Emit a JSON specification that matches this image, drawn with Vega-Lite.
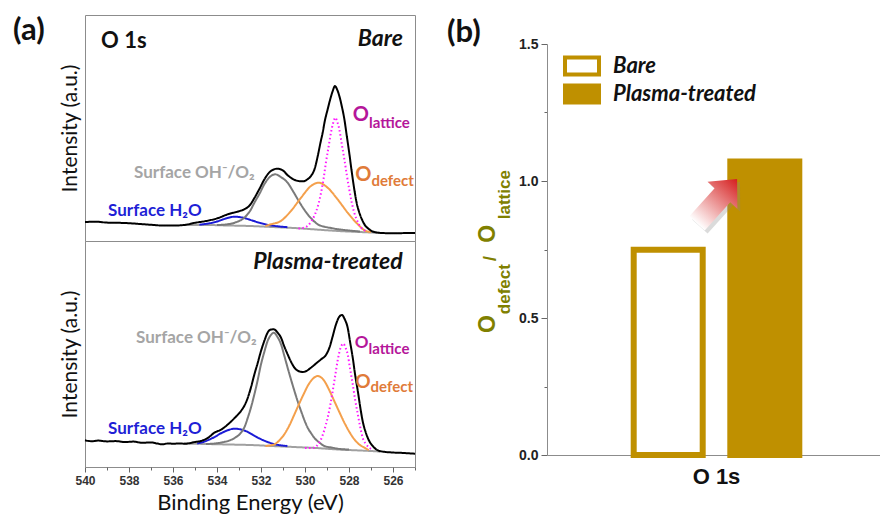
{
  "$schema": "https://vega.github.io/schema/vega-lite/v6.json",
  "background": "white",
  "padding": {"left": 12, "top": 14, "right": 0, "bottom": 0},
  "autosize": {"type": "pad"},
  "spacing": 26,
  "resolve": {"legend": {"fill": "independent"}},
  "config": {
    "font": "Lato",
    "view": {"stroke": "#8c8c8c", "strokeWidth": 1},
    "axis": {"grid": false}
  },
  "datasets": {
    "xps": [
      {"p":"Bare","s":"Background","E":535.5,"I":16},{"p":"Bare","s":"Background","E":534.5,"I":16},{"p":"Bare","s":"Background","E":533.5,"I":15.5},{"p":"Bare","s":"Background","E":532.5,"I":15},{"p":"Bare","s":"Background","E":531.5,"I":14},{"p":"Bare","s":"Background","E":530.5,"I":13},{"p":"Bare","s":"Background","E":529.5,"I":11.5},{"p":"Bare","s":"Background","E":528.5,"I":10},{"p":"Bare","s":"Background","E":527.5,"I":9},{"p":"Bare","s":"Background","E":527,"I":8.5},{"p":"Bare","s":"Background","E":526.5,"I":8},
      {"p":"Bare","s":"Surface H2O","E":534.8,"I":16.3},{"p":"Bare","s":"Surface H2O","E":534.4,"I":17.5},{"p":"Bare","s":"Surface H2O","E":534,"I":19.5},{"p":"Bare","s":"Surface H2O","E":533.6,"I":22.5},{"p":"Bare","s":"Surface H2O","E":533.2,"I":24.3},{"p":"Bare","s":"Surface H2O","E":532.8,"I":23.2},{"p":"Bare","s":"Surface H2O","E":532.4,"I":20.5},{"p":"Bare","s":"Surface H2O","E":532,"I":17.8},{"p":"Bare","s":"Surface H2O","E":531.6,"I":15.8},{"p":"Bare","s":"Surface H2O","E":531.2,"I":14.6},{"p":"Bare","s":"Surface H2O","E":530.8,"I":13.8},
      {"p":"Bare","s":"Surface OH/O2","E":534,"I":16},{"p":"Bare","s":"Surface OH/O2","E":533.6,"I":16.5},{"p":"Bare","s":"Surface OH/O2","E":533.2,"I":18.3},{"p":"Bare","s":"Surface OH/O2","E":532.76,"I":23.3},{"p":"Bare","s":"Surface OH/O2","E":532.5,"I":30},{"p":"Bare","s":"Surface OH/O2","E":532.3,"I":38.3},{"p":"Bare","s":"Surface OH/O2","E":532.05,"I":48},{"p":"Bare","s":"Surface OH/O2","E":531.85,"I":56.7},{"p":"Bare","s":"Surface OH/O2","E":531.6,"I":64},{"p":"Bare","s":"Surface OH/O2","E":531.35,"I":66.7},{"p":"Bare","s":"Surface OH/O2","E":531.1,"I":64},{"p":"Bare","s":"Surface OH/O2","E":530.79,"I":58.3},{"p":"Bare","s":"Surface OH/O2","E":530.55,"I":50},{"p":"Bare","s":"Surface OH/O2","E":530.33,"I":41.7},{"p":"Bare","s":"Surface OH/O2","E":530.1,"I":33.5},{"p":"Bare","s":"Surface OH/O2","E":529.88,"I":26.7},{"p":"Bare","s":"Surface OH/O2","E":529.65,"I":21},{"p":"Bare","s":"Surface OH/O2","E":529.42,"I":16.7},{"p":"Bare","s":"Surface OH/O2","E":529.1,"I":14.2},{"p":"Bare","s":"Surface OH/O2","E":528.82,"I":13},{"p":"Bare","s":"Surface OH/O2","E":528.5,"I":11.8},{"p":"Bare","s":"Surface OH/O2","E":528,"I":10.5},{"p":"Bare","s":"Surface OH/O2","E":527.5,"I":9.5},
      {"p":"Bare","s":"O defect","E":531.8,"I":15},{"p":"Bare","s":"O defect","E":531.55,"I":16.7},{"p":"Bare","s":"O defect","E":531.1,"I":20},{"p":"Bare","s":"O defect","E":530.64,"I":30},{"p":"Bare","s":"O defect","E":530.18,"I":43.3},{"p":"Bare","s":"O defect","E":529.73,"I":55},{"p":"Bare","s":"O defect","E":529.39,"I":58.3},{"p":"Bare","s":"O defect","E":528.97,"I":53.3},{"p":"Bare","s":"O defect","E":528.52,"I":41.7},{"p":"Bare","s":"O defect","E":528.06,"I":28.3},{"p":"Bare","s":"O defect","E":527.6,"I":16.7},{"p":"Bare","s":"O defect","E":527.23,"I":10},{"p":"Bare","s":"O defect","E":527,"I":9},
      {"p":"Bare","s":"O lattice","E":530.3,"I":12.5},{"p":"Bare","s":"O lattice","E":530.03,"I":13.3},{"p":"Bare","s":"O lattice","E":529.8,"I":17},{"p":"Bare","s":"O lattice","E":529.58,"I":25},{"p":"Bare","s":"O lattice","E":529.4,"I":36},{"p":"Bare","s":"O lattice","E":529.27,"I":48.3},{"p":"Bare","s":"O lattice","E":529.15,"I":63},{"p":"Bare","s":"O lattice","E":529.05,"I":78.3},{"p":"Bare","s":"O lattice","E":528.93,"I":94},{"p":"Bare","s":"O lattice","E":528.82,"I":108.3},{"p":"Bare","s":"O lattice","E":528.72,"I":118},{"p":"Bare","s":"O lattice","E":528.62,"I":123.3},{"p":"Bare","s":"O lattice","E":528.53,"I":119},{"p":"Bare","s":"O lattice","E":528.44,"I":111.7},{"p":"Bare","s":"O lattice","E":528.33,"I":97},{"p":"Bare","s":"O lattice","E":528.21,"I":81.7},{"p":"Bare","s":"O lattice","E":528.1,"I":66},{"p":"Bare","s":"O lattice","E":527.99,"I":51.7},{"p":"Bare","s":"O lattice","E":527.88,"I":39},{"p":"Bare","s":"O lattice","E":527.76,"I":28.3},{"p":"Bare","s":"O lattice","E":527.6,"I":19},{"p":"Bare","s":"O lattice","E":527.45,"I":13.3},{"p":"Bare","s":"O lattice","E":527.2,"I":10},
      {"p":"Bare","s":"Envelope","E":540,"I":19},{"p":"Bare","s":"Envelope","E":539.5,"I":19.3},{"p":"Bare","s":"Envelope","E":539,"I":18.4},{"p":"Bare","s":"Envelope","E":538.5,"I":18.2},{"p":"Bare","s":"Envelope","E":538,"I":17.8},{"p":"Bare","s":"Envelope","E":537.5,"I":17},{"p":"Bare","s":"Envelope","E":537,"I":16.2},{"p":"Bare","s":"Envelope","E":536.5,"I":15.5},{"p":"Bare","s":"Envelope","E":536,"I":15.4},{"p":"Bare","s":"Envelope","E":535.5,"I":16},{"p":"Bare","s":"Envelope","E":535,"I":18.2},{"p":"Bare","s":"Envelope","E":534.5,"I":20},{"p":"Bare","s":"Envelope","E":534,"I":22.6},{"p":"Bare","s":"Envelope","E":533.5,"I":26.8},{"p":"Bare","s":"Envelope","E":533,"I":29.8},{"p":"Bare","s":"Envelope","E":532.75,"I":31.8},{"p":"Bare","s":"Envelope","E":532.5,"I":36},{"p":"Bare","s":"Envelope","E":532.3,"I":43},{"p":"Bare","s":"Envelope","E":532.05,"I":53},{"p":"Bare","s":"Envelope","E":531.85,"I":61.5},{"p":"Bare","s":"Envelope","E":531.55,"I":70},{"p":"Bare","s":"Envelope","E":531.25,"I":72.3},{"p":"Bare","s":"Envelope","E":531,"I":70.5},{"p":"Bare","s":"Envelope","E":530.8,"I":66},{"p":"Bare","s":"Envelope","E":530.55,"I":62},{"p":"Bare","s":"Envelope","E":530.3,"I":60},{"p":"Bare","s":"Envelope","E":530.1,"I":59.7},{"p":"Bare","s":"Envelope","E":529.9,"I":61.5},{"p":"Bare","s":"Envelope","E":529.73,"I":65},{"p":"Bare","s":"Envelope","E":529.55,"I":73},{"p":"Bare","s":"Envelope","E":529.42,"I":85},{"p":"Bare","s":"Envelope","E":529.3,"I":98},{"p":"Bare","s":"Envelope","E":529.2,"I":108},{"p":"Bare","s":"Envelope","E":529.1,"I":120},{"p":"Bare","s":"Envelope","E":528.97,"I":131.7},{"p":"Bare","s":"Envelope","E":528.85,"I":142},{"p":"Bare","s":"Envelope","E":528.74,"I":150},{"p":"Bare","s":"Envelope","E":528.64,"I":155},{"p":"Bare","s":"Envelope","E":528.55,"I":152},{"p":"Bare","s":"Envelope","E":528.44,"I":145},{"p":"Bare","s":"Envelope","E":528.32,"I":134},{"p":"Bare","s":"Envelope","E":528.21,"I":121.7},{"p":"Bare","s":"Envelope","E":528.1,"I":105},{"p":"Bare","s":"Envelope","E":527.99,"I":88.3},{"p":"Bare","s":"Envelope","E":527.88,"I":70},{"p":"Bare","s":"Envelope","E":527.76,"I":51.7},{"p":"Bare","s":"Envelope","E":527.65,"I":38},{"p":"Bare","s":"Envelope","E":527.53,"I":28.3},{"p":"Bare","s":"Envelope","E":527.4,"I":21},{"p":"Bare","s":"Envelope","E":527.3,"I":16.7},{"p":"Bare","s":"Envelope","E":527.1,"I":12},{"p":"Bare","s":"Envelope","E":526.85,"I":9},{"p":"Bare","s":"Envelope","E":526.5,"I":8},{"p":"Bare","s":"Envelope","E":526,"I":7.7},{"p":"Bare","s":"Envelope","E":525.5,"I":7.9},{"p":"Bare","s":"Envelope","E":525,"I":8},

      {"p":"Plasma","s":"Background","E":535.5,"I":23.5},{"p":"Plasma","s":"Background","E":534.5,"I":23},{"p":"Plasma","s":"Background","E":533.5,"I":22.5},{"p":"Plasma","s":"Background","E":532.5,"I":22},{"p":"Plasma","s":"Background","E":531.5,"I":21},{"p":"Plasma","s":"Background","E":530.5,"I":20},{"p":"Plasma","s":"Background","E":529.5,"I":19},{"p":"Plasma","s":"Background","E":528.5,"I":17.5},{"p":"Plasma","s":"Background","E":527.5,"I":16.5},{"p":"Plasma","s":"Background","E":527,"I":16},{"p":"Plasma","s":"Background","E":526.6,"I":15.5},
      {"p":"Plasma","s":"Surface H2O","E":534.9,"I":23.5},{"p":"Plasma","s":"Surface H2O","E":534.7,"I":24.5},{"p":"Plasma","s":"Surface H2O","E":534.2,"I":29},{"p":"Plasma","s":"Surface H2O","E":533.7,"I":35},{"p":"Plasma","s":"Surface H2O","E":533.2,"I":38.3},{"p":"Plasma","s":"Surface H2O","E":532.7,"I":36},{"p":"Plasma","s":"Surface H2O","E":532.2,"I":30},{"p":"Plasma","s":"Surface H2O","E":531.7,"I":25},{"p":"Plasma","s":"Surface H2O","E":531.2,"I":22},{"p":"Plasma","s":"Surface H2O","E":530.8,"I":21},
      {"p":"Plasma","s":"Surface OH/O2","E":534.5,"I":23},{"p":"Plasma","s":"Surface OH/O2","E":534.12,"I":23.5},{"p":"Plasma","s":"Surface OH/O2","E":533.8,"I":24.5},{"p":"Plasma","s":"Surface OH/O2","E":533.5,"I":26},{"p":"Plasma","s":"Surface OH/O2","E":533.2,"I":29},{"p":"Plasma","s":"Surface OH/O2","E":532.91,"I":34.3},{"p":"Plasma","s":"Surface OH/O2","E":532.75,"I":40},{"p":"Plasma","s":"Surface OH/O2","E":532.6,"I":49.3},{"p":"Plasma","s":"Surface OH/O2","E":532.45,"I":60},{"p":"Plasma","s":"Surface OH/O2","E":532.3,"I":72.7},{"p":"Plasma","s":"Surface OH/O2","E":532.15,"I":87},{"p":"Plasma","s":"Surface OH/O2","E":532,"I":102.7},{"p":"Plasma","s":"Surface OH/O2","E":531.85,"I":115},{"p":"Plasma","s":"Surface OH/O2","E":531.7,"I":126},{"p":"Plasma","s":"Surface OH/O2","E":531.55,"I":132},{"p":"Plasma","s":"Surface OH/O2","E":531.42,"I":134.3},{"p":"Plasma","s":"Surface OH/O2","E":531.25,"I":130},{"p":"Plasma","s":"Surface OH/O2","E":531.09,"I":122.7},{"p":"Plasma","s":"Surface OH/O2","E":530.95,"I":112},{"p":"Plasma","s":"Surface OH/O2","E":530.79,"I":99.3},{"p":"Plasma","s":"Surface OH/O2","E":530.63,"I":87},{"p":"Plasma","s":"Surface OH/O2","E":530.48,"I":76},{"p":"Plasma","s":"Surface OH/O2","E":530.33,"I":65.5},{"p":"Plasma","s":"Surface OH/O2","E":530.18,"I":56},{"p":"Plasma","s":"Surface OH/O2","E":530.03,"I":47},{"p":"Plasma","s":"Surface OH/O2","E":529.88,"I":39.3},{"p":"Plasma","s":"Surface OH/O2","E":529.73,"I":34},{"p":"Plasma","s":"Surface OH/O2","E":529.58,"I":29.3},{"p":"Plasma","s":"Surface OH/O2","E":529.35,"I":24.5},{"p":"Plasma","s":"Surface OH/O2","E":529.12,"I":21},{"p":"Plasma","s":"Surface OH/O2","E":528.8,"I":19.5},{"p":"Plasma","s":"Surface OH/O2","E":528.4,"I":18},{"p":"Plasma","s":"Surface OH/O2","E":528,"I":17.5},
      {"p":"Plasma","s":"O defect","E":531.8,"I":21},{"p":"Plasma","s":"O defect","E":531.39,"I":22.7},{"p":"Plasma","s":"O defect","E":531.15,"I":27},{"p":"Plasma","s":"O defect","E":530.94,"I":32.7},{"p":"Plasma","s":"O defect","E":530.7,"I":42},{"p":"Plasma","s":"O defect","E":530.48,"I":52.7},{"p":"Plasma","s":"O defect","E":530.25,"I":64},{"p":"Plasma","s":"O defect","E":530.03,"I":74.3},{"p":"Plasma","s":"O defect","E":529.88,"I":81},{"p":"Plasma","s":"O defect","E":529.73,"I":86},{"p":"Plasma","s":"O defect","E":529.42,"I":91},{"p":"Plasma","s":"O defect","E":529.12,"I":86},{"p":"Plasma","s":"O defect","E":528.9,"I":77},{"p":"Plasma","s":"O defect","E":528.67,"I":66},{"p":"Plasma","s":"O defect","E":528.44,"I":55},{"p":"Plasma","s":"O defect","E":528.21,"I":44.3},{"p":"Plasma","s":"O defect","E":527.98,"I":35},{"p":"Plasma","s":"O defect","E":527.76,"I":27.7},{"p":"Plasma","s":"O defect","E":527.53,"I":22.5},{"p":"Plasma","s":"O defect","E":527.3,"I":19.3},{"p":"Plasma","s":"O defect","E":527.1,"I":17},
      {"p":"Plasma","s":"O lattice","E":530,"I":19},{"p":"Plasma","s":"O lattice","E":529.58,"I":19.3},{"p":"Plasma","s":"O lattice","E":529.4,"I":23},{"p":"Plasma","s":"O lattice","E":529.27,"I":27.7},{"p":"Plasma","s":"O lattice","E":529.12,"I":37},{"p":"Plasma","s":"O lattice","E":528.97,"I":49.3},{"p":"Plasma","s":"O lattice","E":528.85,"I":62},{"p":"Plasma","s":"O lattice","E":528.74,"I":76},{"p":"Plasma","s":"O lattice","E":528.63,"I":91},{"p":"Plasma","s":"O lattice","E":528.52,"I":106},{"p":"Plasma","s":"O lattice","E":528.4,"I":118},{"p":"Plasma","s":"O lattice","E":528.26,"I":123.3},{"p":"Plasma","s":"O lattice","E":528.15,"I":119},{"p":"Plasma","s":"O lattice","E":528.06,"I":112.7},{"p":"Plasma","s":"O lattice","E":527.95,"I":98},{"p":"Plasma","s":"O lattice","E":527.83,"I":82.7},{"p":"Plasma","s":"O lattice","E":527.72,"I":67},{"p":"Plasma","s":"O lattice","E":527.6,"I":52.7},{"p":"Plasma","s":"O lattice","E":527.49,"I":40},{"p":"Plasma","s":"O lattice","E":527.38,"I":29.3},{"p":"Plasma","s":"O lattice","E":527.23,"I":23},{"p":"Plasma","s":"O lattice","E":527.08,"I":19.3},{"p":"Plasma","s":"O lattice","E":526.9,"I":17},
      {"p":"Plasma","s":"Envelope","E":540,"I":26.7},{"p":"Plasma","s":"Envelope","E":539.7,"I":25.8},{"p":"Plasma","s":"Envelope","E":539.4,"I":26.4},{"p":"Plasma","s":"Envelope","E":539,"I":25.6},{"p":"Plasma","s":"Envelope","E":538.6,"I":25.9},{"p":"Plasma","s":"Envelope","E":538.2,"I":25},{"p":"Plasma","s":"Envelope","E":537.8,"I":25.4},{"p":"Plasma","s":"Envelope","E":537.4,"I":24.2},{"p":"Plasma","s":"Envelope","E":537,"I":24.6},{"p":"Plasma","s":"Envelope","E":536.7,"I":23.4},{"p":"Plasma","s":"Envelope","E":536.5,"I":22.7},{"p":"Plasma","s":"Envelope","E":536.2,"I":23.6},{"p":"Plasma","s":"Envelope","E":536,"I":23.2},{"p":"Plasma","s":"Envelope","E":535.7,"I":23.6},{"p":"Plasma","s":"Envelope","E":535.45,"I":23.3},{"p":"Plasma","s":"Envelope","E":535,"I":25},{"p":"Plasma","s":"Envelope","E":534.73,"I":26},{"p":"Plasma","s":"Envelope","E":534.4,"I":29.3},{"p":"Plasma","s":"Envelope","E":534.12,"I":34.3},{"p":"Plasma","s":"Envelope","E":533.8,"I":37.5},{"p":"Plasma","s":"Envelope","E":533.5,"I":42.7},{"p":"Plasma","s":"Envelope","E":533.2,"I":49},{"p":"Plasma","s":"Envelope","E":532.91,"I":56},{"p":"Plasma","s":"Envelope","E":532.75,"I":61.5},{"p":"Plasma","s":"Envelope","E":532.6,"I":69.3},{"p":"Plasma","s":"Envelope","E":532.45,"I":80},{"p":"Plasma","s":"Envelope","E":532.3,"I":92.7},{"p":"Plasma","s":"Envelope","E":532.15,"I":104},{"p":"Plasma","s":"Envelope","E":532,"I":116},{"p":"Plasma","s":"Envelope","E":531.85,"I":126},{"p":"Plasma","s":"Envelope","E":531.7,"I":134.3},{"p":"Plasma","s":"Envelope","E":531.55,"I":137.5},{"p":"Plasma","s":"Envelope","E":531.42,"I":137.7},{"p":"Plasma","s":"Envelope","E":531.25,"I":134.5},{"p":"Plasma","s":"Envelope","E":531.09,"I":129.3},{"p":"Plasma","s":"Envelope","E":530.95,"I":121},{"p":"Plasma","s":"Envelope","E":530.79,"I":112.7},{"p":"Plasma","s":"Envelope","E":530.63,"I":105},{"p":"Plasma","s":"Envelope","E":530.48,"I":99.3},{"p":"Plasma","s":"Envelope","E":530.3,"I":96},{"p":"Plasma","s":"Envelope","E":530.1,"I":95},{"p":"Plasma","s":"Envelope","E":529.9,"I":96.5},{"p":"Plasma","s":"Envelope","E":529.73,"I":99.3},{"p":"Plasma","s":"Envelope","E":529.5,"I":103.5},{"p":"Plasma","s":"Envelope","E":529.27,"I":107.7},{"p":"Plasma","s":"Envelope","E":529.05,"I":112},{"p":"Plasma","s":"Envelope","E":528.89,"I":119.3},{"p":"Plasma","s":"Envelope","E":528.75,"I":130},{"p":"Plasma","s":"Envelope","E":528.59,"I":142.7},{"p":"Plasma","s":"Envelope","E":528.45,"I":150},{"p":"Plasma","s":"Envelope","E":528.32,"I":152},{"p":"Plasma","s":"Envelope","E":528.2,"I":148},{"p":"Plasma","s":"Envelope","E":528.06,"I":139.3},{"p":"Plasma","s":"Envelope","E":527.95,"I":125},{"p":"Plasma","s":"Envelope","E":527.83,"I":109.3},{"p":"Plasma","s":"Envelope","E":527.72,"I":92},{"p":"Plasma","s":"Envelope","E":527.6,"I":76},{"p":"Plasma","s":"Envelope","E":527.49,"I":60},{"p":"Plasma","s":"Envelope","E":527.38,"I":46},{"p":"Plasma","s":"Envelope","E":527.23,"I":34},{"p":"Plasma","s":"Envelope","E":527.08,"I":26},{"p":"Plasma","s":"Envelope","E":526.9,"I":20.5},{"p":"Plasma","s":"Envelope","E":526.77,"I":17.7},{"p":"Plasma","s":"Envelope","E":526.5,"I":15.5},{"p":"Plasma","s":"Envelope","E":526,"I":14.5},{"p":"Plasma","s":"Envelope","E":525.5,"I":14},{"p":"Plasma","s":"Envelope","E":525,"I":13.3}
    ],
    "ratio": [
      {"group": "O 1s", "series": "Bare", "value": 0.749},
      {"group": "O 1s", "series": "Plasma-treated", "value": 1.071}
    ]
  },
  "hconcat": [
    {
      "spacing": 0,
      "bounds": "flush",
      "vconcat": [
        {
          "width": 330,
          "height": 226,
          "layer": [
            {
              "data": {"name": "xps"},
              "transform": [{"filter": "datum.p === 'Bare'"}],
              "mark": {"type": "line", "strokeWidth": 2, "interpolate": "monotone"},
              "encoding": {
                "x": {"field": "E", "type": "quantitative", "scale": {"domain": [525, 540], "reverse": true, "nice": false}, "axis": null},
                "y": {"field": "I", "type": "quantitative", "scale": {"domain": [0, 226], "nice": false}, "axis": {"title": "Intensity (a.u.)", "labels": false, "ticks": false, "domain": false, "titleFont": "Lato", "titleFontSize": 21, "titleFontWeight": "normal", "titleColor": "#111111", "titlePadding": 5}},
                "color": {"field": "s", "type": "nominal", "scale": {"domain": ["Envelope", "Background", "Surface H2O", "Surface OH/O2", "O defect", "O lattice"], "range": ["#000000", "#a0a0a0", "#1a1ad6", "#7a7a7a", "#f4a04c", "#ff1aff"]}, "legend": null},
                "strokeDash": {"field": "s", "type": "nominal", "scale": {"domain": ["Envelope", "Background", "Surface H2O", "Surface OH/O2", "O defect", "O lattice"], "range": [[1, 0], [1, 0], [1, 0], [1, 0], [1, 0], [1.5, 2.5]]}, "legend": null}
              }
            },
            {
              "data": {"values": [{"E": 543.27, "I": 201, "t": "(a)"}]},
              "mark": {"type": "text", "align": "left", "baseline": "alphabetic", "font": "Lato", "fontSize": 31, "fontWeight": "bold", "color": "#111111", "clip": false},
              "encoding": {"x": {"field": "E", "type": "quantitative"}, "y": {"field": "I", "type": "quantitative"}, "text": {"field": "t"}}
            },
            {
              "data": {"values": [{"E": 539.27, "I": 193.3, "t": "O 1s"}]},
              "mark": {"type": "text", "align": "left", "baseline": "alphabetic", "font": "Lato", "fontSize": 22, "fontWeight": "bold", "color": "#111111", "clip": false},
              "encoding": {"x": {"field": "E", "type": "quantitative"}, "y": {"field": "I", "type": "quantitative"}, "text": {"field": "t"}}
            },
            {
              "data": {"values": [{"E": 525.55, "I": 195, "t": "Bare"}]},
              "mark": {"type": "text", "align": "right", "baseline": "alphabetic", "font": "Lato", "fontSize": 23, "fontWeight": "bold", "fontStyle": "italic", "color": "#111111", "clip": false},
              "encoding": {"x": {"field": "E", "type": "quantitative"}, "y": {"field": "I", "type": "quantitative"}, "text": {"field": "t"}}
            },
            {
              "data": {"values": [{"E": 537.77, "I": 63.5, "t": "Surface OH⁻/O₂"}]},
              "mark": {"type": "text", "align": "left", "baseline": "alphabetic", "font": "Lato", "fontSize": 17, "fontWeight": "bold", "color": "#a5a5a5", "clip": false},
              "encoding": {"x": {"field": "E", "type": "quantitative"}, "y": {"field": "I", "type": "quantitative"}, "text": {"field": "t"}}
            },
            {
              "data": {"values": [{"E": 538.95, "I": 25, "t": "Surface H₂O"}]},
              "mark": {"type": "text", "align": "left", "baseline": "alphabetic", "font": "Lato", "fontSize": 17, "fontWeight": "bold", "color": "#1f1fd6", "clip": false},
              "encoding": {"x": {"field": "E", "type": "quantitative"}, "y": {"field": "I", "type": "quantitative"}, "text": {"field": "t"}}
            },
            {
              "data": {"values": [{"E": 527.09, "I": 120, "t": "O"}]},
              "mark": {"type": "text", "align": "right", "baseline": "alphabetic", "font": "Lato", "fontSize": 20, "fontWeight": "bold", "color": "#b5169a", "clip": false},
              "encoding": {"x": {"field": "E", "type": "quantitative"}, "y": {"field": "I", "type": "quantitative"}, "text": {"field": "t"}}
            },
            {
              "data": {"values": [{"E": 527.09, "I": 120, "t": "lattice"}]},
              "mark": {"type": "text", "align": "left", "baseline": "alphabetic", "dy": 7, "font": "Lato", "fontSize": 15, "fontWeight": "bold", "color": "#b5169a", "clip": false},
              "encoding": {"x": {"field": "E", "type": "quantitative"}, "y": {"field": "I", "type": "quantitative"}, "text": {"field": "t"}}
            },
            {
              "data": {"values": [{"E": 526.98, "I": 60, "t": "O"}]},
              "mark": {"type": "text", "align": "right", "baseline": "alphabetic", "font": "Lato", "fontSize": 20, "fontWeight": "bold", "color": "#e07b39", "clip": false},
              "encoding": {"x": {"field": "E", "type": "quantitative"}, "y": {"field": "I", "type": "quantitative"}, "text": {"field": "t"}}
            },
            {
              "data": {"values": [{"E": 526.98, "I": 60, "t": "defect"}]},
              "mark": {"type": "text", "align": "left", "baseline": "alphabetic", "dy": 5, "font": "Lato", "fontSize": 15, "fontWeight": "bold", "color": "#e07b39", "clip": false},
              "encoding": {"x": {"field": "E", "type": "quantitative"}, "y": {"field": "I", "type": "quantitative"}, "text": {"field": "t"}}
            }
          ]
        },
        {
          "width": 330,
          "height": 226,
          "resolve": {"axis": {"x": "independent"}},
          "layer": [
            {
              "data": {"name": "xps"},
              "transform": [{"filter": "datum.p === 'Plasma'"}],
              "mark": {"type": "line", "strokeWidth": 2, "interpolate": "monotone"},
              "encoding": {
                "x": {"field": "E", "type": "quantitative", "scale": {"domain": [525, 540], "reverse": true, "nice": false}, "axis": {"orient": "bottom", "title": "Binding Energy (eV)", "titleFont": "Lato", "titleFontSize": 22, "titleFontWeight": "normal", "titleColor": "#111111", "titlePadding": 6, "values": [540, 538, 536, 534, 532, 530, 528, 526], "format": "d", "labels": true, "labelFont": "Liberation Sans", "labelFontSize": 12, "labelFontWeight": "bold", "labelColor": "#333333", "labelPadding": 3, "labelOverlap": false, "labelFlush": false, "tickColor": "#666666", "tickSize": 5, "domain": false}},
                "y": {"field": "I", "type": "quantitative", "scale": {"domain": [0, 226], "nice": false}, "axis": {"title": "Intensity (a.u.)", "labels": false, "ticks": false, "domain": false, "titleFont": "Lato", "titleFontSize": 21, "titleFontWeight": "normal", "titleColor": "#111111", "titlePadding": 5}},
                "color": {"field": "s", "type": "nominal", "scale": {"domain": ["Envelope", "Background", "Surface H2O", "Surface OH/O2", "O defect", "O lattice"], "range": ["#000000", "#a0a0a0", "#1a1ad6", "#7a7a7a", "#f4a04c", "#ff1aff"]}, "legend": null},
                "strokeDash": {"field": "s", "type": "nominal", "scale": {"domain": ["Envelope", "Background", "Surface H2O", "Surface OH/O2", "O defect", "O lattice"], "range": [[1, 0], [1, 0], [1, 0], [1, 0], [1, 0], [1.5, 2.5]]}, "legend": null}
              }
            },
            {
              "data": {"values": [{"E": 525.56, "I": 198, "t": "Plasma-treated"}]},
              "mark": {"type": "text", "align": "right", "baseline": "alphabetic", "font": "Lato", "fontSize": 23, "fontWeight": "bold", "fontStyle": "italic", "color": "#111111", "clip": false},
              "encoding": {"x": {"field": "E", "type": "quantitative", "axis": {"orient": "bottom", "values": [539, 537, 535, 533, 531, 529, 527, 525], "labels": false, "title": null, "tickSize": 3, "tickColor": "#666666", "domain": false, "grid": false}}, "y": {"field": "I", "type": "quantitative"}, "text": {"field": "t"}}
            },
            {
              "data": {"values": [{"E": 537.68, "I": 124, "t": "Surface OH⁻/O₂"}]},
              "mark": {"type": "text", "align": "left", "baseline": "alphabetic", "font": "Lato", "fontSize": 17, "fontWeight": "bold", "color": "#a5a5a5", "clip": false},
              "encoding": {"x": {"field": "E", "type": "quantitative", "axis": null}, "y": {"field": "I", "type": "quantitative"}, "text": {"field": "t"}}
            },
            {
              "data": {"values": [{"E": 538.95, "I": 33, "t": "Surface H₂O"}]},
              "mark": {"type": "text", "align": "left", "baseline": "alphabetic", "font": "Lato", "fontSize": 17, "fontWeight": "bold", "color": "#1f1fd6", "clip": false},
              "encoding": {"x": {"field": "E", "type": "quantitative", "axis": null}, "y": {"field": "I", "type": "quantitative"}, "text": {"field": "t"}}
            },
            {
              "data": {"values": [{"E": 527.11, "I": 119.3, "t": "O"}]},
              "mark": {"type": "text", "align": "right", "baseline": "alphabetic", "font": "Lato", "fontSize": 17, "fontWeight": "bold", "color": "#b5169a", "clip": false},
              "encoding": {"x": {"field": "E", "type": "quantitative", "axis": null}, "y": {"field": "I", "type": "quantitative"}, "text": {"field": "t"}}
            },
            {
              "data": {"values": [{"E": 527.11, "I": 119.3, "t": "lattice"}]},
              "mark": {"type": "text", "align": "left", "baseline": "alphabetic", "dy": 6, "font": "Lato", "fontSize": 15, "fontWeight": "bold", "color": "#b5169a", "clip": false},
              "encoding": {"x": {"field": "E", "type": "quantitative", "axis": null}, "y": {"field": "I", "type": "quantitative"}, "text": {"field": "t"}}
            },
            {
              "data": {"values": [{"E": 527.02, "I": 79.3, "t": "O"}]},
              "mark": {"type": "text", "align": "right", "baseline": "alphabetic", "font": "Lato", "fontSize": 19, "fontWeight": "bold", "color": "#e07b39", "clip": false},
              "encoding": {"x": {"field": "E", "type": "quantitative", "axis": null}, "y": {"field": "I", "type": "quantitative"}, "text": {"field": "t"}}
            },
            {
              "data": {"values": [{"E": 527.02, "I": 79.3, "t": "defect"}]},
              "mark": {"type": "text", "align": "left", "baseline": "alphabetic", "dy": 4, "font": "Lato", "fontSize": 15, "fontWeight": "bold", "color": "#e07b39", "clip": false},
              "encoding": {"x": {"field": "E", "type": "quantitative", "axis": null}, "y": {"field": "I", "type": "quantitative"}, "text": {"field": "t"}}
            }
          ]
        }
      ]
    },
    {
      "width": 339,
      "height": 440,
      "view": {"stroke": null},
      "resolve": {"scale": {"x": "independent"}},
      "layer": [
        {
          "data": {"name": "ratio"},
          "mark": {"type": "bar", "stroke": "#BF9000", "strokeWidth": 6},
          "encoding": {
            "x": {"field": "group", "type": "nominal", "scale": {"paddingInner": 0, "paddingOuter": 0.5235}, "axis": {"title": null, "labelAngle": 0, "labelFont": "Liberation Sans", "labelFontSize": 22, "labelFontWeight": "bold", "labelColor": "#111111", "labelPadding": 11, "ticks": false, "domainColor": "#8c8c8c"}},
            "xOffset": {"field": "series", "type": "nominal", "sort": ["Bare", "Plasma-treated"], "scale": {"paddingInner": 0.2857, "paddingOuter": 0}},
            "y": {"field": "value", "type": "quantitative", "scale": {"domain": [0, 1.5], "range": [440, 29], "nice": false}, "axis": {"title": null, "values": [0, 0.25, 0.5, 0.75, 1, 1.25, 1.5], "labelExpr": "(datum.value * 2) % 1 === 0 ? format(datum.value, '.1f') : ''", "labelFont": "Liberation Sans", "labelFontSize": 14, "labelFontWeight": "bold", "labelColor": "#222222", "labelPadding": 3, "tickColor": "#666666", "tickSize": {"condition": {"test": "(datum.value * 2) % 1 === 0", "value": 6}, "value": 3}, "domainColor": "#8c8c8c"}},
            "fill": {"field": "series", "type": "nominal", "scale": {"domain": ["Bare", "Plasma-treated"], "range": ["#ffffff", "#BF9000"]}, "legend": {"orient": "none", "legendX": 24, "legendY": 40, "title": null, "symbolType": "M -2 -1 L 2 -1 L 2 1 L -2 1 Z", "symbolSize": 289, "symbolStrokeColor": "#BF9000", "symbolStrokeWidth": 4, "symbolOpacity": 1, "labelFont": "Lato", "labelFontSize": 22, "labelFontStyle": "italic", "labelFontWeight": "bold", "labelColor": "#111111", "labelOffset": 20, "rowPadding": -14, "padding": 0}}
          }
        },
        {
          "layer": [
            {
              "mark": {"type": "rule", "color": "#8c8c8c", "strokeWidth": 1},
              "encoding": {"y": {"datum": 1.5, "type": "quantitative"}}
            },
            {
              "data": {"values": [{"pos": 0.51, "value": 0.915}]},
              "mark": {"type": "point", "shape": "M -1 -0.35 L 0.27 -0.35 L 0.27 -0.67 L 1 0 L 0.27 0.67 L 0.27 0.35 L -1 0.35 Z", "size": 3600, "angle": 312, "filled": true, "fill": "#888888", "opacity": 0.3, "strokeWidth": 0, "clip": false},
              "encoding": {"x": {"field": "pos", "type": "quantitative", "scale": {"domain": [0, 1]}, "axis": null}, "y": {"field": "value", "type": "quantitative"}}
            },
            {
              "data": {"values": [{"pos": 0.5015, "value": 0.926}]},
              "mark": {"type": "point", "shape": "M -1 -0.35 L 0.27 -0.35 L 0.27 -0.67 L 1 0 L 0.27 0.67 L 0.27 0.35 L -1 0.35 Z", "size": 3600, "angle": 312, "filled": true, "opacity": 1, "strokeWidth": 0, "clip": false, "fill": {"gradient": "linear", "x1": 0, "y1": 0, "x2": 1, "y2": 0, "stops": [{"offset": 0, "color": "#ffffff"}, {"offset": 1, "color": "#d51e1e"}]}},
              "encoding": {"x": {"field": "pos", "type": "quantitative", "scale": {"domain": [0, 1]}, "axis": null}, "y": {"field": "value", "type": "quantitative"}}
            },
            {
              "data": {"values": [{"pos": -0.295, "value": 1.5057, "t": "(b)"}]},
              "mark": {"type": "text", "align": "left", "baseline": "alphabetic", "font": "Lato", "fontSize": 31, "fontWeight": "bold", "color": "#111111", "clip": false},
              "encoding": {"x": {"field": "pos", "type": "quantitative", "scale": {"domain": [0, 1]}, "axis": null}, "y": {"field": "value", "type": "quantitative"}, "text": {"field": "t"}}
            },
            {
              "data": {"values": [{"pos": -0.1534, "value": 0.4448, "t": "O"}, {"pos": -0.1534, "value": 0.7747, "t": "O"}]},
              "mark": {"type": "text", "angle": 270, "align": "left", "baseline": "alphabetic", "font": "Liberation Sans", "fontSize": 23, "fontWeight": "bold", "color": "#808000", "clip": false},
              "encoding": {"x": {"field": "pos", "type": "quantitative", "scale": {"domain": [0, 1]}, "axis": null}, "y": {"field": "value", "type": "quantitative"}, "text": {"field": "t"}}
            },
            {
              "data": {"values": [{"pos": -0.1091, "value": 0.514, "t": "defect"}, {"pos": -0.1091, "value": 0.8604, "t": "lattice"}]},
              "mark": {"type": "text", "angle": 270, "align": "left", "baseline": "alphabetic", "font": "Liberation Sans", "fontSize": 17, "fontWeight": "bold", "color": "#808000", "clip": false},
              "encoding": {"x": {"field": "pos", "type": "quantitative", "scale": {"domain": [0, 1]}, "axis": null}, "y": {"field": "value", "type": "quantitative"}, "text": {"field": "t"}}
            },
            {
              "data": {"values": [{"pos": -0.1504, "value": 0.7073, "t": "/"}]},
              "mark": {"type": "text", "angle": 270, "align": "left", "baseline": "alphabetic", "font": "Liberation Sans", "fontSize": 19, "fontWeight": "bold", "color": "#808000", "clip": false},
              "encoding": {"x": {"field": "pos", "type": "quantitative", "scale": {"domain": [0, 1]}, "axis": null}, "y": {"field": "value", "type": "quantitative"}, "text": {"field": "t"}}
            }
          ]
        }
      ]
    }
  ]
}
